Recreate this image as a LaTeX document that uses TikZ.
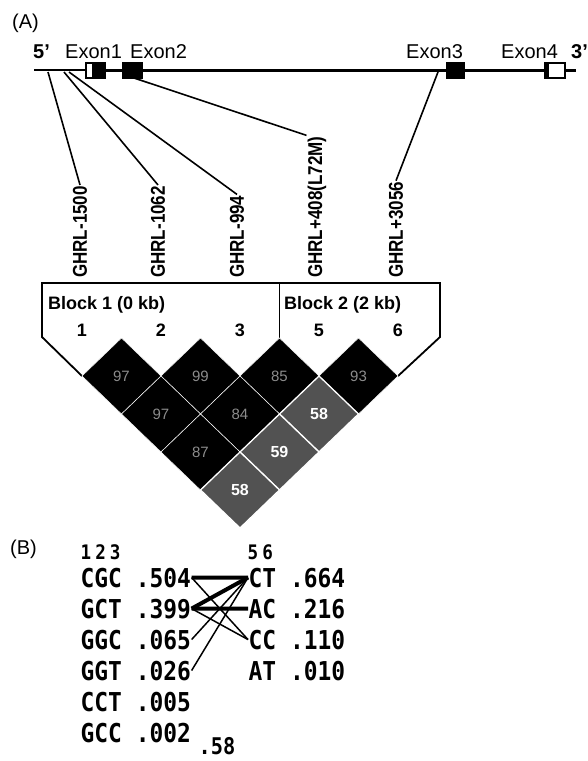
\documentclass[tikz,border=0pt]{standalone}
\usepackage{fontspec}
\setmainfont{Liberation Sans}
\newfontfamily\narrowfont[FakeStretch=0.85]{Liberation Sans}
\newfontfamily\hapfont[FakeStretch=0.88]{DejaVu Sans Mono}
\usetikzlibrary{calc}

\begin{document}
\begin{tikzpicture}[
        x=1pt, y=-1pt,
        font=\fontsize{20}{24}\selectfont,
        gene/.style={line width=3pt},
        exonbox/.style={draw, fill=black, line width=1.2pt},
        snp_line/.style={line width=1.6pt},
        snp_label/.style={rotate=90, anchor=west, inner sep=1pt,
            font=\fontsize{20}{24}\selectfont\narrowfont\bfseries},
        block_line/.style={line width=1.8pt},
        block_label/.style={anchor=base west, inner sep=0pt,
            font=\fontsize{18}{22}\selectfont\bfseries},
        marker_num/.style={anchor=base, inner sep=0pt,
            font=\fontsize{18}{22}\selectfont\bfseries},
        ld_black/.style={fill=black, draw=white, line width=0.5pt},
        ld_gray/.style={fill=black!68, draw=white, line width=1.3pt},
        txt_black/.style={text=black!45, font=\fontsize{15}{18}\selectfont},
        txt_gray/.style={text=white, font=\fontsize{16}{18}\selectfont\bfseries},
        hap/.style={anchor=base west, inner sep=0.5pt,
            font=\fontsize{26}{30}\selectfont\hapfont\bfseries},
        hap_thick/.style={line width=4pt},
        hap_thin/.style={line width=1.5pt}
    ]
    \useasboundingbox (0,0) rectangle (588,761);

    % Panel labels
    \node[anchor=base west, inner sep=0pt] (panelA) at (12,28) {(A)};
    \node[anchor=base west, inner sep=0pt] (panelB) at (10,554) {(B)};

    % Gene with exons
    \draw[line width=2pt] (34,70) -- (86,70);
    \draw[gene] (86,70) -- (576,70);
    \draw[line width=1.5pt, fill=white] (86,63) rectangle (105,78);
    \fill (92,63) rectangle (105.7,78.7);
    \draw[exonbox] (123,63) rectangle (142,78);
    \draw[exonbox] (447,63) rectangle (464,78);
    \draw[line width=1.8pt, fill=white] (545,63) rectangle (565,78);
    \fill (544,62) rectangle (549,79);

    \node[anchor=base west, inner sep=0pt, font=\fontsize{20}{24}\selectfont\bfseries] (five) at (33,58) {5'};
    \node[anchor=base west, inner sep=0pt] (exon1) at (65,58) {Exon1};
    \node[anchor=base west, inner sep=0pt] (exon2) at (130,58) {Exon2};
    \node[anchor=base west, inner sep=0pt] (exon3) at (406,58) {Exon3};
    \node[anchor=base west, inner sep=0pt] (exon4) at (501,58) {Exon4};
    \node[anchor=base west, inner sep=0pt, font=\fontsize{20}{24}\selectfont\bfseries] (three) at (571,58) {3'};

    % SNP positions on the gene
    \coordinate (g1) at (48,72);
    \coordinate (g2) at (64,72);
    \coordinate (g3) at (69,72);
    \coordinate (g4) at (131,77);
    \coordinate (g5) at (438,72);

    % SNP labels
    \node[snp_label] (s1) at (80,279) {GHRL-1500};
    \node[snp_label] (s2) at (158,279) {GHRL-1062};
    \node[snp_label] (s3) at (237,279) {GHRL-994};
    \node[snp_label] (s4) at (317,279) {GHRL+408(L72M)};
    \node[snp_label] (s5) at (396,279) {GHRL+3056};

    \draw[snp_line] (g1) -- (s1.east);
    \draw[snp_line] (g2) -- (s2.east);
    \draw[snp_line] (g3) -- (s3.east);
    \draw[snp_line] (g4) -- (s4.north east);
    \draw[snp_line] (g5) -- (s5.east);

    % Block header
    \draw[block_line] (82,376) -- (42,337) -- (42,283) -- (440,283) -- (440,337) -- (398,376);
    \draw[block_line] (279.5,283) -- (279.5,338);
    \node[block_label] (blk1) at (48,309) {Block 1 (0 kb)};
    \node[block_label] (blk2) at (284,309) {Block 2 (2 kb)};
    \foreach \k/\n in {0/1, 1/2, 2/3, 3/5, 4/6} {
        \node[marker_num] (m\n) at (82+79*\k,336) {\n};
    }

    % LD diamonds
    \foreach \i/\j/\v/\s/\t in {0/1/97/ld_black/txt_black, 1/2/99/ld_black/txt_black,
            2/3/85/ld_black/txt_black, 3/4/93/ld_black/txt_black,
            0/2/97/ld_black/txt_black, 1/3/84/ld_black/txt_black,
            0/3/87/ld_black/txt_black,
            2/4/58/ld_gray/txt_gray, 1/4/59/ld_gray/txt_gray, 0/4/58/ld_gray/txt_gray} {
        \pgfmathsetmacro{\cx}{82+79*(\i+\j)/2}
        \pgfmathsetmacro{\cy}{338+38*(\j-\i)}
        \draw[\s] (\cx-39.5,\cy) -- (\cx,\cy-38) -- (\cx+39.5,\cy) -- (\cx,\cy+38) -- cycle;
        \node[\t] (d\i\j) at (\cx,\cy) {\v};
    }

    % Haplotypes
    \node[hap, font=\fontsize{20}{22}\selectfont\hapfont\bfseries] (hdr1) at (80,559) {1\hspace{4pt}2\hspace{4pt}3};
    \node[hap, font=\fontsize{20}{22}\selectfont\hapfont\bfseries] (hdr2) at (247,559) {5\hspace{4pt}6};

    \node[hap] (ha1) at (80,587) {CGC .504};
    \node[hap] (ha2) at (80,618) {GCT .399};
    \node[hap] (ha3) at (80,649) {GGC .065};
    \node[hap] (ha4) at (80,680) {GGT .026};
    \node[hap] (ha5) at (80,711) {CCT .005};
    \node[hap] (ha6) at (80,742) {GCC .002};

    \node[hap] (hb1) at (248,587) {CT .664};
    \node[hap] (hb2) at (248,618) {AC .216};
    \node[hap] (hb3) at (248,649) {CC .110};
    \node[hap] (hb4) at (248,680) {AT .010};

    \draw[hap_thick] (ha1.east) -- (hb1.west);
    \draw[hap_thick] (ha2.east) -- (hb1.west);
    \draw[hap_thick] (ha2.east) -- (hb2.west);
    \draw[hap_thin] (ha1.east) -- (hb3.west);
    \draw[hap_thin] (ha2.east) -- (hb3.west);
    \draw[hap_thin] (ha3.east) -- (hb1.west);
    \draw[hap_thin] (ha4.east) -- (hb1.west);

    \node[hap, font=\fontsize{23}{26}\selectfont\hapfont\bfseries] (multi) at (198,754) {.58};

\end{tikzpicture}
\end{document}
